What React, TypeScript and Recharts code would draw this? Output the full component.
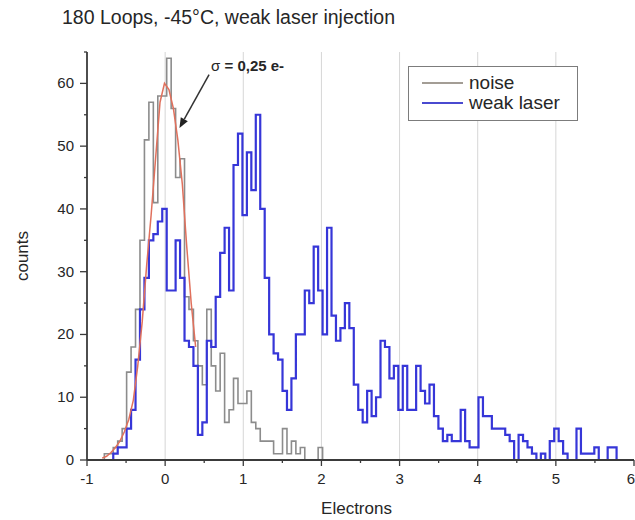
import React from 'react';
import { ComposedChart, Line, XAxis, YAxis, ReferenceLine, Legend } from 'recharts';

// ---- data ----
const binStart = -1.006; // left edge of the first histogram bin (electrons)
const binWidth = 0.057;  // histogram bin width (electrons)

// weak laser injection counts, one per bin
const laserCounts = [
  0, 0, 0,
  0, 0, 0, 1, 2, 2, 5, 8, 16, 24,
  29, 35, 36, 38, 40, 27, 27, 35, 29, 19,
  18, 15, 4, 6, 19, 18, 26, 33, 37, 27,
  47, 52, 39, 49, 43, 55, 40, 29, 20, 17,
  16, 11, 8, 13, 20, 20, 27, 25, 34, 27,
  20, 37, 23, 19, 21, 25, 21, 12, 8, 6,
  11, 7, 10, 19, 18, 13, 15, 8, 15, 8,
  8, 15, 11, 9, 12, 7, 5, 3, 4, 3,
  3, 8, 3, 2, 2, 10, 7, 7, 5, 5,
  5, 4, 3, 0, 4, 3, 2, 1, 0, 1,
  0, 3, 5, 3, 1, 0, 0, 5, 1, 1,
  1, 2, 0, 0, 2, 2, 0, 0, 0, 0,
];

// noise counts, one per bin (ends at about 2 e-)
const noiseCounts = [
  0, 0, 0,
  0, 1, 1, 2, 3, 5, 14, 18, 24, 35,
  51, 57, 41, 58, 58, 64, 56, 45, 48, 26,
  24, 19, 15, 12, 24, 15, 11, 17, 6, 8,
  13, 9, 9, 11, 6, 5, 3, 3, 3, 1,
  1, 5, 1, 3, 1, 2, 0, 0, 0, 2,
  0,
];

// gaussian fit (red), sampled at bin centres starting from bin index fitFirstBin
const fitFirstBin = 3;
const fitValues = [
  0.3, 0.6, 1.2, 2, 3, 4.5, 6.5, 9.5, 15, 22,
  31, 39, 48, 57, 60, 59, 56, 51, 44, 34,
  25, 18,
];

const xTicks = [-1, -0.5, 0, 0.5, 1, 1.5, 2, 2.5, 3, 3.5, 4, 4.5, 5, 5.5, 6];
const yTicks = [0, 5, 10, 15, 20, 25, 30, 35, 40, 45, 50, 55, 60, 65];
const gridX = [0, 1, 2, 3, 4, 5];
const xMin = -1;
const xMax = 6;
const yMax = 65;

const titleText = '180 Loops, -45°C, weak laser injection';
const annotationText = ['σ', ' = 0,25 e-'];
const annotationArrow = [
  { x: 0.562, y: 61.4 },
  { x: 0.183, y: 52.9 },
];

const seriesInfo = [
  { key: 'noise', name: 'noise', color: '#8c8c8c', legendColor: '#a39d95' },
  { key: 'laser', name: 'weak laser', color: '#3636d8', legendColor: '#4a4ad0' },
];

// ---- tables built from the arrays ----
const histRows: any[] = laserCounts.map((v, i) => ({
  x: binStart + i * binWidth,
  laser: v,
  noise: i < noiseCounts.length ? noiseCounts[i] : undefined,
}));
// closing edge so the last bin gets its full width
histRows.push({
  x: binStart + laserCounts.length * binWidth,
  laser: laserCounts[laserCounts.length - 1],
  noise: undefined,
});
histRows[noiseCounts.length].noise = noiseCounts[noiseCounts.length - 1];

const fitRows = fitValues.map((v, i) => ({
  x: binStart + (fitFirstBin + i + 0.5) * binWidth,
  fit: v,
}));

const FONT = '"Liberation Sans", Arial, sans-serif';
const AXIS = '#3a3a3a';
const TEXT = '#262626';

const XTick = (props: any) => {
  const { x, y, payload } = props;
  const v = payload.value;
  const major = Number.isInteger(v);
  const last = v === xMax;
  return (
    <g>
      <line x1={x} x2={x} y1={y} y2={y + (major ? 6 : 3)} stroke={AXIS} strokeWidth={1.3} />
      {major && (
        <text
          x={last ? x + 1 : x}
          y={y + 24}
          textAnchor={last ? 'end' : 'middle'}
          fontSize={15}
          fill={TEXT}
          fontFamily={FONT}
        >
          {v}
        </text>
      )}
    </g>
  );
};

const YTick = (props: any) => {
  const { x, y, payload } = props;
  const v = payload.value;
  const major = v % 10 === 0;
  return (
    <g>
      <line x1={x - (major ? 7 : 3)} x2={x} y1={y} y2={y} stroke={AXIS} strokeWidth={1.3} />
      {major && (
        <text x={x - 13} y={y + 5} textAnchor="end" fontSize={15} fill={TEXT} fontFamily={FONT}>
          {v}
        </text>
      )}
    </g>
  );
};

const ArrowShape = (props: any) => {
  const { x1, y1, x2, y2 } = props;
  const ang = Math.atan2(y2 - y1, x2 - x1);
  const L = 10, Wd = 4;
  const bx = x2 - L * Math.cos(ang), by = y2 - L * Math.sin(ang);
  const px = -Math.sin(ang) * Wd, py = Math.cos(ang) * Wd;
  return (
    <g>
      <line x1={x1} y1={y1} x2={bx} y2={by} stroke="#333" strokeWidth={1.5} />
      <polygon points={`${x2},${y2} ${bx + px},${by + py} ${bx - px},${by - py}`} fill="#222" />
      <text x={x1 + 2} y={y1 - 4} fontSize={15} fill={TEXT} fontFamily={FONT}>
        <tspan>{annotationText[0]}</tspan>
        <tspan fontWeight="bold">{annotationText[1]}</tspan>
      </text>
    </g>
  );
};

const LegendBox = () => (
  <div
    style={{
      width: 170,
      height: 55,
      boxSizing: 'border-box',
      border: '1px solid #7c7c7c',
      background: '#fff',
      position: 'relative',
      fontFamily: FONT,
      fontSize: 19,
      color: TEXT,
    }}
  >
    {seriesInfo.map((s, i) => (
      <div
        key={s.key}
        style={{ position: 'absolute', left: 13, top: 5 + i * 20, height: 22, display: 'flex', alignItems: 'center' }}
      >
        <svg width={41} height={4} style={{ display: 'block' }}>
          <line x1={0} x2={41} y1={2} y2={2} stroke={s.legendColor} strokeWidth={2} />
        </svg>
        <span style={{ marginLeft: 6, lineHeight: '22px', whiteSpace: 'nowrap' }}>{s.name}</span>
      </div>
    ))}
  </div>
);

export default function App() {
  return (
    <div style={{ position: 'absolute', left: 0, top: 0, width: 635, height: 520, background: '#fff', fontFamily: FONT }}>
      <div
        style={{
          position: 'absolute',
          left: 62,
          top: 5,
          fontSize: 19.5,
          lineHeight: '24px',
          color: TEXT,
          whiteSpace: 'nowrap',
          fontFamily: FONT,
        }}
      >
        {titleText}
      </div>
      <ComposedChart
        width={635}
        height={520}
        margin={{ top: 52, right: 1, bottom: 0, left: 0 }}
        style={{ fontFamily: FONT }}
      >
        <XAxis
          dataKey="x"
          type="number"
          domain={[xMin, xMax]}
          allowDataOverflow
          ticks={xTicks}
          interval={0}
          tick={<XTick />}
          tickLine={false}
          tickSize={0}
          tickMargin={0}
          height={60}
          axisLine={{ stroke: AXIS, strokeWidth: 1.8 }}
          label={{
            content: (p: any) => {
              const vb = p.viewBox || {};
              return (
                <text x={(vb.x || 87) + (vb.width || 547) / 2 - 4} y={514} textAnchor="middle" fontSize={17} fill={TEXT} fontFamily={FONT}>
                  Electrons
                </text>
              );
            },
          }}
        />
        <YAxis
          type="number"
          domain={[0, yMax]}
          allowDataOverflow
          ticks={yTicks}
          interval={0}
          tick={<YTick />}
          tickLine={false}
          tickSize={0}
          tickMargin={0}
          width={87}
          axisLine={{ stroke: AXIS, strokeWidth: 1.8 }}
          label={{
            content: (p: any) => {
              const vb = p.viewBox || {};
              const cy = (vb.y || 52) + (vb.height || 408) / 2;
              return (
                <text x={22} y={cy} transform={`rotate(-90 22 ${cy})`} textAnchor="middle" dominantBaseline="central" fontSize={17} fill={TEXT} fontFamily={FONT}>
                  counts
                </text>
              );
            },
          }}
        />
        {gridX.map((g) => (
          <ReferenceLine key={g} x={g} stroke="#d6d6d6" strokeWidth={1} ifOverflow="hidden" />
        ))}
        <Line
          data={histRows}
          dataKey="noise"
          name="noise"
          type="stepAfter"
          stroke={seriesInfo[0].color}
          strokeWidth={1.6}
          dot={false}
          activeDot={false}
          isAnimationActive={false}
        />
        <Line
          data={histRows}
          dataKey="laser"
          name="weak laser"
          type="stepAfter"
          stroke={seriesInfo[1].color}
          strokeWidth={2.2}
          dot={false}
          activeDot={false}
          isAnimationActive={false}
        />
        <Line
          data={fitRows}
          dataKey="fit"
          name="fit"
          type="linear"
          stroke="#e0705c"
          strokeWidth={1.5}
          dot={false}
          activeDot={false}
          isAnimationActive={false}
          legendType="none"
        />
        <ReferenceLine
          segment={annotationArrow}
          ifOverflow="visible"
          shape={<ArrowShape />}
        />
        <Legend
          layout="vertical"
          align="center"
          verticalAlign="middle"
          content={<LegendBox />}
          wrapperStyle={{ left: 408, top: 66, width: 170, height: 55 }}
        />
      </ComposedChart>
    </div>
  );
}
